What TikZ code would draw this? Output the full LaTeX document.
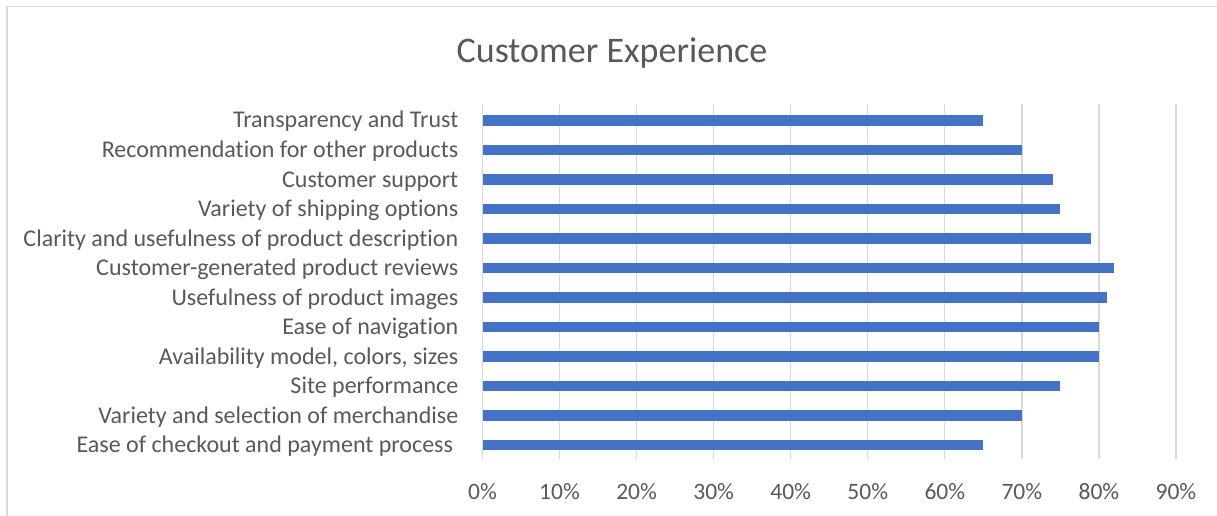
\documentclass[tikz,border=0pt]{standalone}
\usepackage{fontspec}
\setmainfont{Carlito}[Ligatures={NoCommon}]
\definecolor{txt}{HTML}{595959}
\definecolor{barc}{HTML}{4472C4}
\definecolor{gridc}{HTML}{D9D9D9}
\begin{document}
\begin{tikzpicture}[x=1pt,y=-1pt,
  lab/.style={text=txt,inner sep=0pt,anchor=base east,font=\fontsize{24}{28}\selectfont},
  tick/.style={text=txt,inner sep=0pt,anchor=base,font=\fontsize{23.5}{27}\selectfont},
  ttl/.style={text=txt,inner sep=0pt,anchor=base,font=\fontsize{36}{42}\selectfont},
  gridline/.style={draw=gridc,line width=1.3pt},
  barfill/.style={fill=barc}]
\useasboundingbox (0,0) rectangle (1217,516);
\fill[white] (0,0) rectangle (1217,516);
\draw[gridc,line width=1.4pt] (6.8,516) -- (6.8,6.8) -- (1217,6.8);
\node[ttl] (title) at (612,62.7) {Customer Experience};
\foreach \k in {0,...,9} {
  \draw[gridline] ({482.5+77.05*\k},104) -- ({482.5+77.05*\k},459);
  \pgfmathtruncatemacro\p{10*\k}
  \node[tick] (t\k) at ({482.5+77.05*\k},499.3) {\p\%};
}
\foreach \v [count=\i from 0] in {65,70,74,75,79,82,81,80,80,75,70,65}
  \fill[barfill] (482.5,{120.5+29.5*\i-5.2}) rectangle ({482.5+7.705*\v},{120.5+29.5*\i+5.2});
\foreach \t [count=\i from 0] in {Transparency and Trust,Recommendation for other products,Customer support,Variety of shipping options,Clarity and usefulness of product description,Customer-generated product reviews,Usefulness of product images,Ease of navigation,{Availability model, colors, sizes},Site performance,Variety and selection of merchandise}
  \node[lab] (l\i) at (458.5,{128+29.5*\i}) {\t};
\node[lab] (l11) at (453.2,{128+29.5*11}) {Ease of checkout and payment process};
\end{tikzpicture}
\end{document}
